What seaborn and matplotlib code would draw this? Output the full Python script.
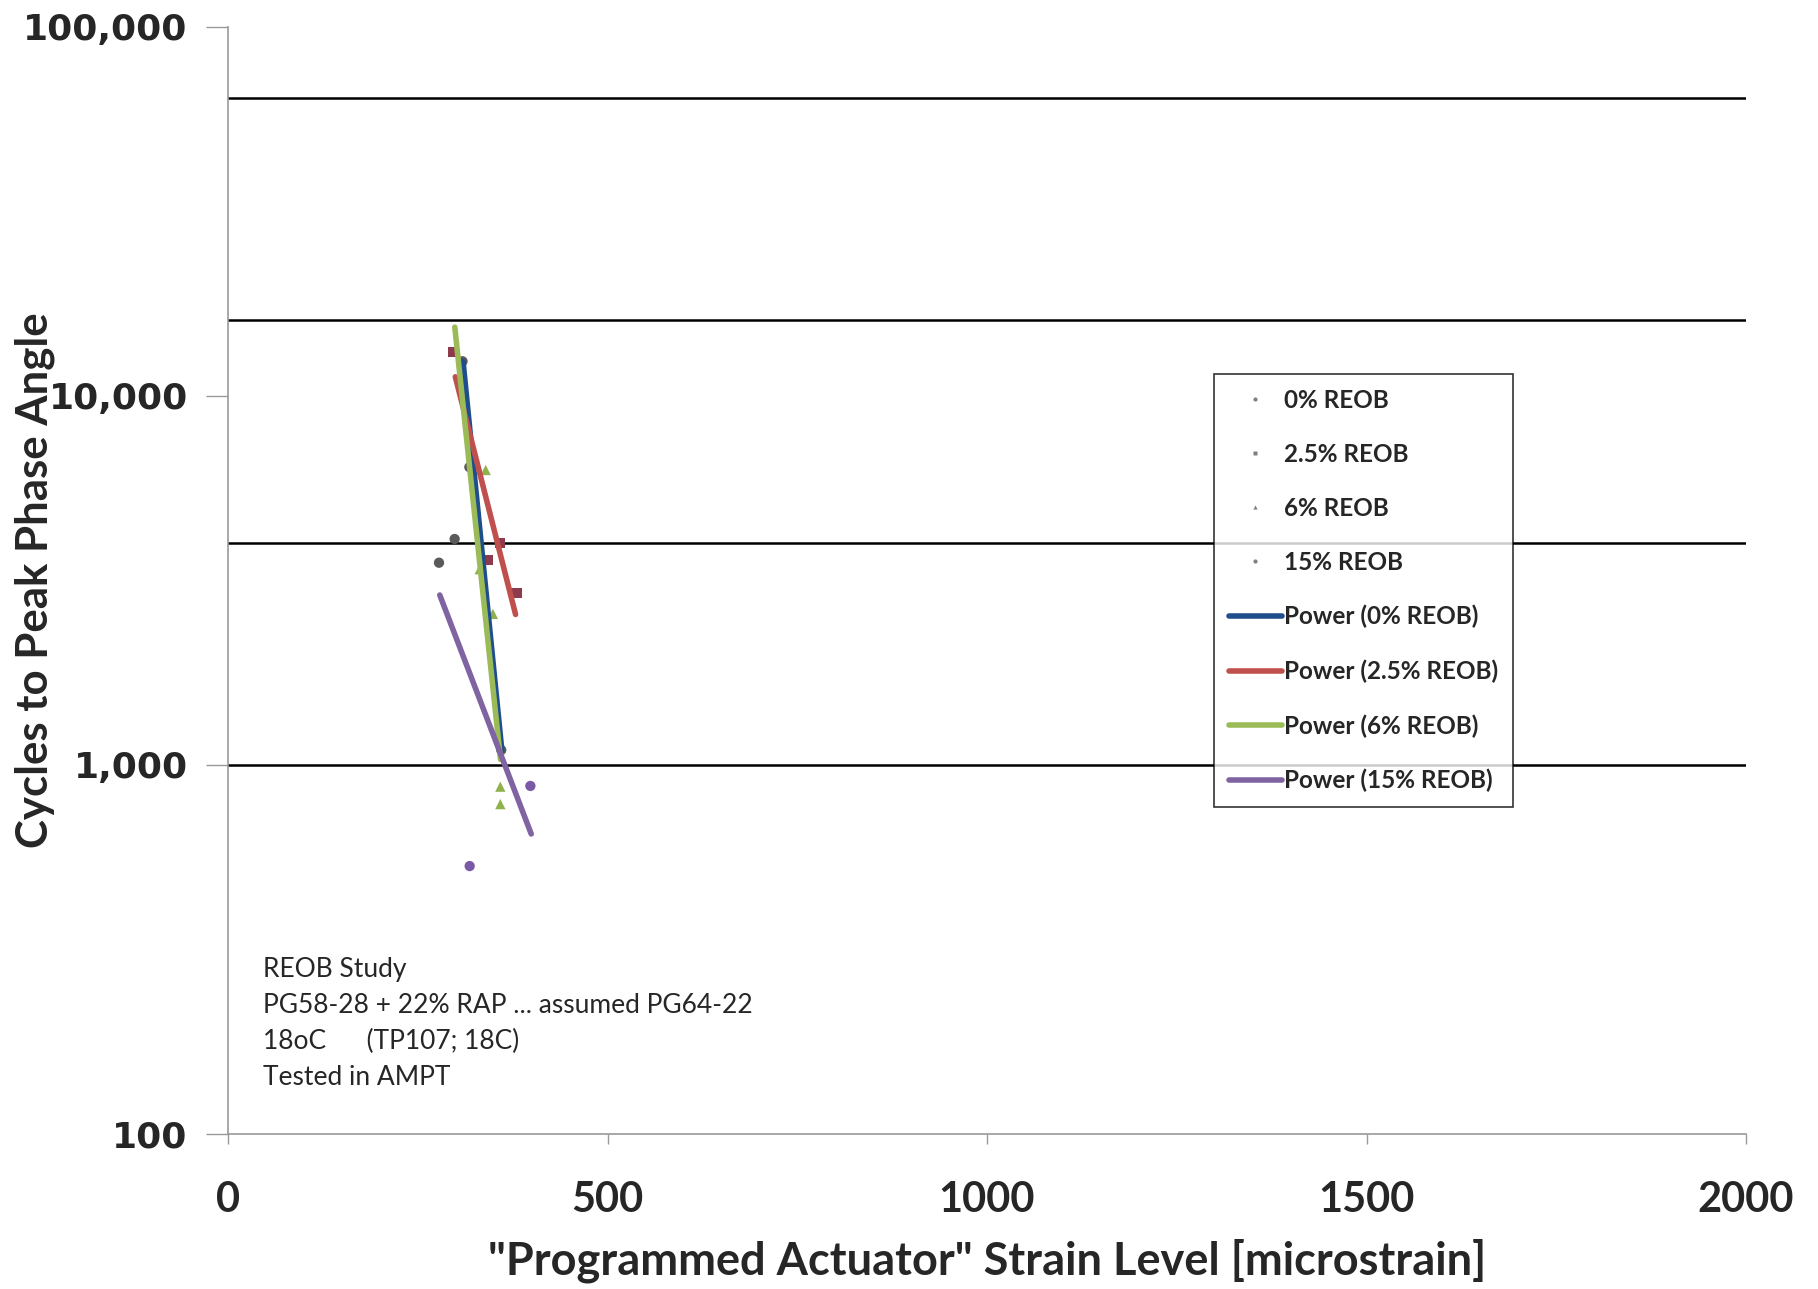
import numpy as np
import pandas as pd
import matplotlib
matplotlib.use("Agg")
import matplotlib.pyplot as plt
from matplotlib.lines import Line2D
import seaborn as sns

# ---------------- data ----------------
series_names = ["0% REOB", "2.5% REOB", "6% REOB", "15% REOB"]

strain_0 = [278, 298.6, 309, 318, 360]
cycles_0 = [3530, 4093, 12400, 6410, 1097]

strain_25 = [296.4, 341.7, 358, 380]
cycles_25 = [13170, 3590, 3985, 2927]

strain_6 = [331.6, 339.5, 349, 358.8, 358.8]
cycles_6 = [3390, 6295, 2565, 873, 783]

strain_15 = [318.4, 398.4]
cycles_15 = [532, 877]

# power trend lines: (x start, x end), (y start, y end)
trend_x = {"0% REOB": [309, 360], "2.5% REOB": [299.5, 378.9],
           "6% REOB": [298.8, 359], "15% REOB": [279, 399.5]}
trend_y = {"0% REOB": [12360, 1097], "2.5% REOB": [11260, 2556],
           "6% REOB": [15350, 1035], "15% REOB": [2886, 650]}

grid_levels = [1000, 4000, 16000, 64000]
y_ticks = [100, 1000, 10000, 100000]
y_ticklabels = ["100", "1,000", "10,000", "100,000"]
x_ticks = [0, 500, 1000, 1500, 2000]

note_lines = ["REOB Study",
              "PG58-28 + 22% RAP ... assumed PG64-22",
              "18oC      (TP107; 18C)",
              "Tested in AMPT"]

# ---------------- style ----------------
marker_colors = {"0% REOB": "#5a5a5a", "2.5% REOB": "#8c3a4c",
                 "6% REOB": "#8fb14e", "15% REOB": "#7a5aa6"}
markers = {"0% REOB": "o", "2.5% REOB": "s", "6% REOB": "^", "15% REOB": "o"}
line_colors = {"0% REOB": "#1f4e8c", "2.5% REOB": "#c0504d",
               "6% REOB": "#9bbb59", "15% REOB": "#8064a2"}

sns.set_style("white")
plt.rcParams["font.family"] = ["Lato", "DejaVu Sans"]

W, H = 1818, 1289
fig = plt.figure(figsize=(W / 100, H / 100), dpi=100)
ax = fig.add_axes([228 / W, 1 - 1134 / H, (1746 - 228) / W, (1134 - 26.7) / H])

# gridlines
for g in grid_levels:
    ax.axhline(g, color="black", lw=1.8, zorder=1)

# scatter points
pts = pd.DataFrame({
    "strain": strain_0 + strain_25 + strain_6 + strain_15,
    "cycles": cycles_0 + cycles_25 + cycles_6 + cycles_15,
    "series": (["0% REOB"] * len(strain_0) + ["2.5% REOB"] * len(strain_25)
               + ["6% REOB"] * len(strain_6) + ["15% REOB"] * len(strain_15)),
})
sns.scatterplot(data=pts, x="strain", y="cycles", hue="series", style="series",
                palette=marker_colors, markers=markers, s=55, linewidth=0,
                legend=False, ax=ax, zorder=3)

# trend lines drawn between the read end points
for name in series_names:
    df = pd.DataFrame({"x": trend_x[name], "y": trend_y[name]})
    sns.lineplot(data=df, x="x", y="y", color=line_colors[name],
                 lw=4.8 if name == "0% REOB" else 4, ax=ax, zorder=4,
                 solid_capstyle="round")

ax.set_yscale("log")
ax.set_ylim(100, 100000)
ax.set_xlim(0, 2000)
ax.set_yticks(y_ticks)
ax.set_yticklabels(y_ticklabels, fontsize=26, fontweight="bold",
                   family=["DejaVu Sans"])
ax.yaxis.set_minor_locator(matplotlib.ticker.NullLocator())
ax.set_xticks(x_ticks)
ax.set_xticklabels([str(v) for v in x_ticks], fontsize=30, fontweight="bold")
ax.tick_params(axis="y", length=16, width=1, color="#999999", pad=13, left=True)
ax.tick_params(axis="x", length=7, width=1, color="#999999", pad=27, bottom=True)

for s in ["top", "right"]:
    ax.spines[s].set_visible(False)
for s in ["left", "bottom"]:
    ax.spines[s].set_color("#999999")
    ax.spines[s].set_linewidth(1.2)

ax.set_xlabel('"Programmed Actuator" Strain Level [microstrain]',
              fontsize=32.5, fontweight="bold", va="center")
ax.set_ylabel("Cycles to Peak Phase Angle", fontsize=31.5, fontweight="bold",
              va="center")
ax.xaxis.set_label_coords(0.5, -(1261 - 1134) / (1134 - 26.7))
ax.yaxis.set_label_coords(-(228 - 35) / (1746 - 228), 0.5)

# legend
handles = []
labels = []
for name in series_names:
    handles.append(Line2D([], [], ls="none", marker=markers[name], ms=3,
                          color="#808080", mec="none"))
    labels.append(name)
for name in series_names:
    handles.append(Line2D([], [], color=line_colors[name], lw=4))
    labels.append("Power (" + name + ")")
leg = ax.legend(handles, labels, loc="upper left",
                bbox_to_anchor=((1214 - 228) / 1518, (1134 - 374) / 1107.3),
                borderaxespad=0, frameon=True, fancybox=False,
                prop={"size": 17.5, "weight": "bold"}, labelspacing=1.28,
                handlelength=2.2, handletextpad=0.1, borderpad=0.6)
leg.get_frame().set_edgecolor("black")
leg.get_frame().set_linewidth(1.2)
leg.set_zorder(10)

fig.text(263 / W, 1 - 957 / H, "\n".join(note_lines), fontsize=19,
         va="top", ha="left", linespacing=1.55)

fig.savefig("out.png", dpi=100, facecolor="white")
